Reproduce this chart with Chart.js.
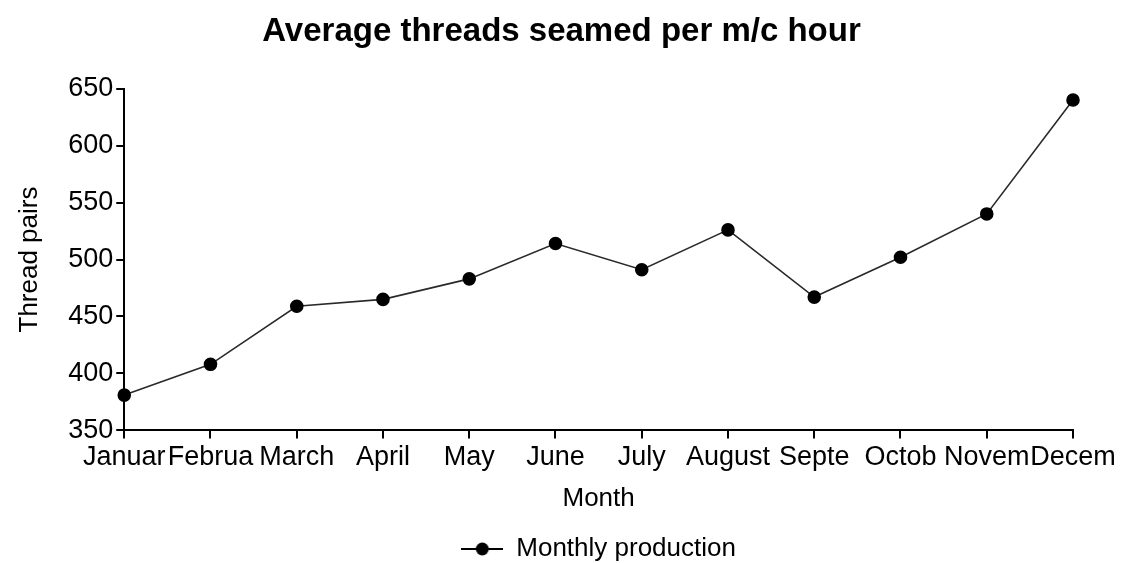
<!DOCTYPE html>
<html lang="en">

<head>
  <meta charset="UTF-8" />
  <title>Average threads seamed per m/c hour</title>
  <script src="https://cdn.jsdelivr.net/npm/chart.js"></script>
  <style>
    body { margin: 0; background: #fff; }
    #wrap { width: 1123px; height: 563px; }
  </style>
</head>

<body>
  <div id="wrap"><canvas id="grafico"></canvas></div>

  <script>
    // datos
    const months = ['Januar', 'Februa', 'March', 'April', 'May', 'June', 'July', 'August', 'Septe', 'Octob', 'Novem', 'Decem'];
    const production = [381, 408, 459, 465, 483, 514, 491, 526, 467, 502, 540, 640];
    const yTicks = [350, 400, 450, 500, 550, 600, 650];

    const fuente = "'Liberation Sans', Arial, sans-serif";

    // marcador de leyenda: linea con punto
    const marker = document.createElement('canvas');
    marker.width = 42;
    marker.height = 16;
    const mctx = marker.getContext('2d');
    mctx.strokeStyle = '#000';
    mctx.lineWidth = 2;
    mctx.beginPath();
    mctx.moveTo(0, 8);
    mctx.lineTo(42, 8);
    mctx.stroke();
    mctx.fillStyle = '#000';
    mctx.beginPath();
    mctx.arc(21, 8, 6.5, 0, Math.PI * 2);
    mctx.fill();

    // titulo centrado en el lienzo, leyenda centrada sobre el area del grafico
    const centrar = {
      id: 'centrar',
      afterLayout(chart) {
        const a = chart.chartArea;
        const lg = chart.legend;
        if (lg) {
          lg.left = a.left;
          lg.right = a.right;
          lg.width = a.right - a.left;
          lg.top += 9;
          lg.bottom += 9;
        }
        const t = chart.titleBlock;
        if (t) {
          t.left = 0;
          t.right = chart.width;
          t.width = chart.width;
        }
      }
    };

    const ctx = document.getElementById('grafico').getContext('2d');
    new Chart(ctx, {
      type: 'line',
      data: {
        labels: months,
        datasets: [{
          label: 'Monthly production',
          data: production,
          borderColor: '#2a2a2a',
          borderWidth: 1.6,
          pointRadius: 6,
          pointBackgroundColor: '#000',
          pointBorderColor: '#000',
          tension: 0,
          fill: false
        }]
      },
      plugins: [centrar],
      options: {
        responsive: true,
        maintainAspectRatio: false,
        animation: false,
        layout: { padding: { left: 0, right: 50, top: 0, bottom: 0 } },
        plugins: {
          title: {
            display: true,
            text: 'Average threads seamed per m/c hour',
            color: '#000',
            font: { family: fuente, size: 33, weight: 'bold' },
            padding: { top: 12, bottom: 37 }
          },
          legend: {
            position: 'bottom',
            labels: {
              usePointStyle: true,
              pointStyle: marker,
              pointStyleWidth: 42,
              color: '#000',
              font: { family: fuente, size: 26 },
              padding: 0
            }
          },
          tooltip: { enabled: false }
        },
        scales: {
          x: {
            offset: false,
            border: { color: '#000', width: 2 },
            grid: { drawOnChartArea: false, color: '#000', lineWidth: 2, tickLength: 8 },
            ticks: {
              color: '#000',
              font: { family: fuente, size: 27 },
              maxRotation: 0,
              autoSkip: false,
              padding: 3
            },
            title: {
              display: true,
              text: 'Month',
              color: '#000',
              font: { family: fuente, size: 26 },
              padding: { top: 6, bottom: 13 }
            }
          },
          y: {
            min: 350,
            max: 650,
            afterBuildTicks: axis => { axis.ticks = yTicks.map(v => ({ value: v })); },
            border: { color: '#000', width: 2 },
            grid: { drawOnChartArea: false, color: '#000', lineWidth: 2, tickLength: 8 },
            ticks: {
              color: '#000',
              font: { family: fuente, size: 27 },
              padding: 3
            },
            title: {
              display: true,
              text: 'Thread pairs',
              color: '#000',
              font: { family: fuente, size: 26 },
              padding: { top: 14, bottom: 20 }
            }
          }
        }
      }
    });
  </script>
</body>

</html>
